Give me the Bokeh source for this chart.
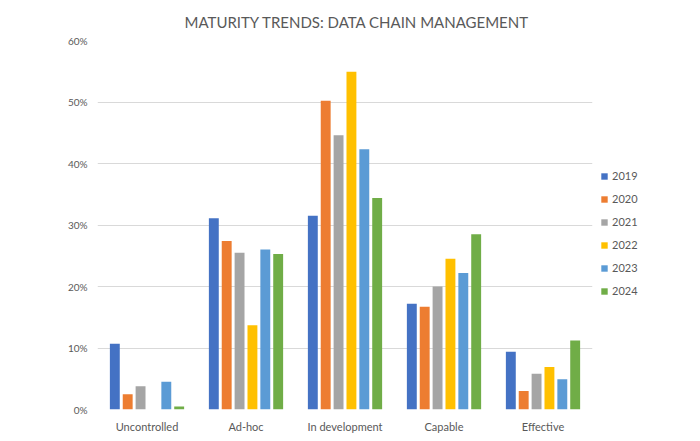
from bokeh.plotting import figure
from bokeh.layouts import row
from bokeh.models import (Range1d, FactorRange, Legend, LegendItem,
                          NumeralTickFormatter, FixedTicker, ColumnDataSource)
from bokeh.transform import dodge
from bokeh.embed import file_html
from bokeh.resources import INLINE

categories = ["Uncontrolled", "Ad-hoc", "In development", "Capable", "Effective"]
years = ["2019", "2020", "2021", "2022", "2023", "2024"]
v2019 = [0.107, 0.311, 0.315, 0.172, 0.094]
v2020 = [0.025, 0.274, 0.502, 0.167, 0.030]
v2021 = [0.038, 0.255, 0.446, 0.200, 0.058]
v2022 = [0.000, 0.137, 0.549, 0.245, 0.069]
v2023 = [0.045, 0.260, 0.423, 0.222, 0.049]
v2024 = [0.005, 0.253, 0.344, 0.285, 0.112]
colors = ["#4472C4", "#ED7D31", "#A5A5A5", "#FFC000", "#5B9BD5", "#70AD47"]
yticks = [0, 0.1, 0.2, 0.3, 0.4, 0.5, 0.6]

src = ColumnDataSource(dict(cat=categories, y2019=v2019, y2020=v2020, y2021=v2021,
                            y2022=v2022, y2023=v2023, y2024=v2024))

FONT = "Lato"
TXT = "#595959"

p = figure(x_range=FactorRange(*categories), y_range=Range1d(0, 0.6),
           width=594, height=440, output_backend="svg", toolbar_location=None,
           min_border_left=97, min_border_right=2, min_border_top=40,
           min_border_bottom=31, outline_line_color=None,
           title="MATURITY TRENDS: DATA CHAIN MANAGEMENT")

p.title.align = "left"
p.title.offset = 87
p.title.standoff = 20
p.title.text_font = FONT
p.title.text_font_size = "15px"
p.title.text_font_style = "normal"
p.title.text_color = TXT

for i, (yr, col) in enumerate(zip(years, colors)):
    off = (i - 2.5) * 0.13
    p.vbar(x=dodge("cat", off, range=p.x_range), top="y" + yr, width=0.10,
           source=src, fill_color=col, line_color=None)

p.yaxis.ticker = FixedTicker(ticks=yticks)
p.yaxis.formatter = NumeralTickFormatter(format="0%")
for ax in (p.xaxis[0], p.yaxis[0]):
    ax.axis_line_color = None
    ax.major_tick_line_color = None
    ax.minor_tick_line_color = None
    ax.major_tick_out = 0
    ax.major_tick_in = 0
    ax.minor_tick_out = 0
    ax.major_label_text_font = FONT
    ax.major_label_text_color = TXT
    ax.major_label_standoff = 10
p.yaxis.major_label_text_font_size = "10px"
p.xaxis.major_label_text_font_size = "11px"

p.xgrid.grid_line_color = None
p.ygrid.grid_line_color = "#D9D9D9"
p.ygrid.ticker = FixedTicker(ticks=yticks)

# legend panel (frame is aligned with the main plot's frame by the row layout)
p2 = figure(width=104, height=440, output_backend="svg", toolbar_location=None,
            x_range=FactorRange(*categories), y_range=Range1d(0, 0.6),
            min_border=0, outline_line_color=None,
            x_axis_location=None, y_axis_location=None)
p2.grid.visible = False
items = []
for yr, col in zip(years, colors):
    r = p2.vbar(x="cat", top="y" + yr, width=0.1, source=src,
                fill_color=col, line_color=None, visible=False)
    items.append(LegendItem(label=yr, renderers=[r]))

legend = Legend(items=items, location=(6, 112), border_line_color=None,
                background_fill_alpha=0,
                glyph_width=8, glyph_height=8, label_height=10, spacing=10,
                label_text_font=FONT, label_text_font_size="11px",
                label_text_color=TXT, padding=0, margin=0, label_standoff=4)
p2.add_layout(legend, "center")

open("out.html", "w").write(file_html(row(p, p2), INLINE))
